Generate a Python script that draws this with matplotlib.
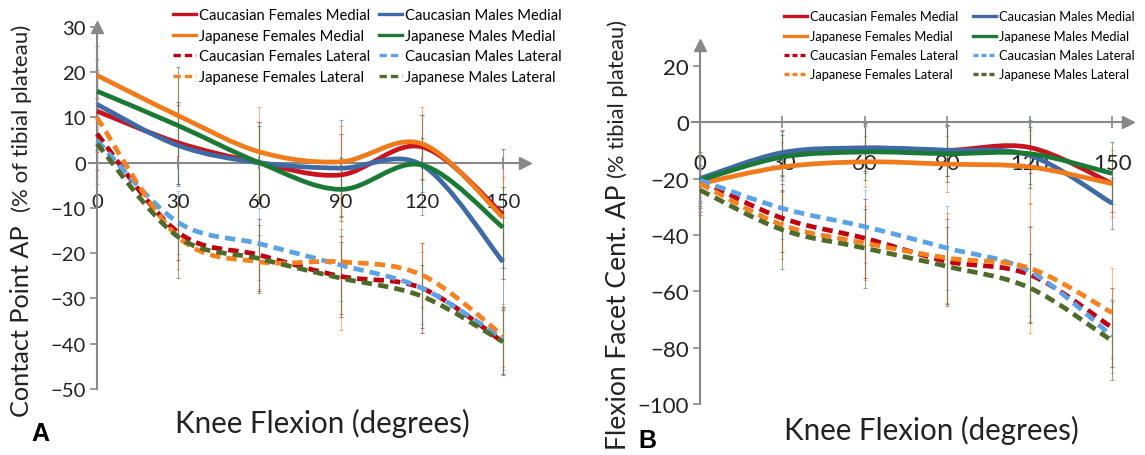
import matplotlib
matplotlib.use('Agg')
import matplotlib.pyplot as plt
from matplotlib.path import Path
from matplotlib.patches import PathPatch
from matplotlib.lines import Line2D
import numpy as np

plt.rcParams['font.family'] = ['Lato', 'DejaVu Sans']

flexion = [0, 30, 60, 90, 120, 150]

series_names = ['Caucasian Females Medial', 'Caucasian Males Medial',
                'Japanese Females Medial', 'Japanese Males Medial',
                'Caucasian Females Lateral', 'Caucasian Males Lateral',
                'Japanese Females Lateral', 'Japanese Males Lateral']
series_colors = ['#C8141E', '#3E6AA5', '#F07B1B', '#1A7A35',
                 '#C00010', '#5BA3E6', '#F58220', '#4E6B2A']
series_styles = ['-', '-', '-', '-', '--', '--', '--', '--']

# panel A: contact point AP (% of tibial plateau)
a_cf_med = [11.4, 4.4, 0.0, -2.7, 3.5, -11.4]
a_cm_med = [12.9, 3.8, 0.0, -1.2, -0.5, -21.9]
a_jf_med = [19.3, 10.4, 2.4, 0.2, 4.2, -12.1]
a_jm_med = [15.8, 8.2, 0.0, -5.9, -0.5, -14.3]
a_cf_lat = [6.4, -15.4, -20.4, -25.1, -27.7, -39.6]
a_cm_lat = [4.9, -13.2, -17.9, -22.6, -27.7, -38.9]
a_jf_lat = [10.0, -16.4, -21.9, -21.9, -24.8, -38.2]
a_jm_lat = [4.2, -16.4, -21.2, -25.5, -29.5, -39.6]

a_cf_med_sd = [9, 9, 9, 9, 7, 14.4]
a_cm_med_sd = [10, 9, 9, 10.7, 11, 10]
a_jf_med_sd = [10.5, 9, 10, 8, 8, 9]
a_jm_med_sd = [10, 13, 8, 7, 6, 9]
a_cf_lat_sd = [8, 6, 8, 9, 10, 7]
a_cm_lat_sd = [8, 7, 8, 8, 8, 7]
a_jf_lat_sd = [10, 7, 6, 15, 7, 7]
a_jm_lat_sd = [9, 9, 7.5, 8, 7, 7.4]

# panel B: flexion facet centre AP (% tibial plateau)
b_cf_med = [-20.6, -11.2, -9.2, -10.0, -9.0, -21.8]
b_cm_med = [-20.0, -10.8, -9.2, -10.0, -11.8, -28.8]
b_jf_med = [-21.8, -15.9, -14.1, -14.9, -15.9, -21.8]
b_jm_med = [-20.6, -12.4, -10.6, -11.2, -11.2, -18.2]
b_cf_lat = [-20.6, -34.1, -41.2, -49.4, -54.1, -72.9]
b_cm_lat = [-20.6, -30.6, -37.1, -44.7, -52.9, -75.9]
b_jf_lat = [-21.8, -36.5, -42.9, -48.2, -51.8, -67.6]
b_jm_lat = [-24.1, -38.2, -44.7, -51.2, -58.8, -77.6]

b_cf_med_sd = [9, 8, 8, 9, 9, 10]
b_cm_med_sd = [8, 8, 9, 9, 10, 9]
b_jf_med_sd = [10, 9, 9, 10, 13, 12]
b_jm_med_sd = [8, 8, 10, 10, 12, 11]
b_cf_lat_sd = [10, 12, 14, 15, 17, 14]
b_cm_lat_sd = [9, 11, 13, 15, 16, 13]
b_jf_lat_sd = [10, 12, 13, 16, 23, 16]
b_jm_lat_sd = [9, 14, 14, 14, 12, 14]

a_values = [a_cf_med, a_cm_med, a_jf_med, a_jm_med, a_cf_lat, a_cm_lat, a_jf_lat, a_jm_lat]
a_sds = [a_cf_med_sd, a_cm_med_sd, a_jf_med_sd, a_jm_med_sd,
         a_cf_lat_sd, a_cm_lat_sd, a_jf_lat_sd, a_jm_lat_sd]
b_values = [b_cf_med, b_cm_med, b_jf_med, b_jm_med, b_cf_lat, b_cm_lat, b_jf_lat, b_jm_lat]
b_sds = [b_cf_med_sd, b_cm_med_sd, b_jf_med_sd, b_jm_med_sd,
         b_cf_lat_sd, b_cm_lat_sd, b_jf_lat_sd, b_jm_lat_sd]

GRAY = '#888888'
TXT = '#222222'
W, H = 1145, 456

fig = plt.figure(figsize=(W / 100, H / 100), dpi=100)
renderer = fig.canvas.get_renderer()


def fit_size(text, target_px, **kw):
    # font size that makes the text about target_px wide
    t = fig.text(0, 0, text, fontsize=10, **kw)
    w = t.get_window_extent(renderer).width
    t.remove()
    return 10 * target_px / w


def smooth_path(x, y):
    # excel style smoothed line: catmull-rom as cubic bezier
    pts = np.column_stack([x, y]).astype(float)
    n = len(pts)
    verts = [pts[0]]
    codes = [Path.MOVETO]
    for i in range(n - 1):
        p0 = pts[max(i - 1, 0)]
        p1 = pts[i]
        p2 = pts[i + 1]
        p3 = pts[min(i + 2, n - 1)]
        verts += [p1 + (p2 - p0) / 6, p2 - (p3 - p1) / 6, p2]
        codes += [Path.CURVE4] * 3
    return Path(verts, codes)


def draw_panel(ax, values, sds, ylim, yticks, xlim, tick_size, tick_pad):
    for vals, sd, c in zip(values, sds, series_colors):
        ax.errorbar(flexion, vals, yerr=sd, fmt='none', ecolor=c, elinewidth=0.8,
                    capsize=1.5, capthick=0.8, alpha=0.55, zorder=1, clip_on=False)
    for vals, c, ls in zip(values, series_colors, series_styles):
        patch = PathPatch(smooth_path(flexion, vals), fill=False, edgecolor=c,
                          lw=3.4, zorder=3, capstyle='butt')
        if ls == '--':
            patch.set_linestyle((0, (2.2, 1.3)))
        ax.add_patch(patch)

    ax.set_xlim(*xlim)
    ax.set_ylim(*ylim)
    ax.set_yticks(yticks)
    ax.set_xticks(flexion)
    for s in ['top', 'right']:
        ax.spines[s].set_visible(False)
    ax.spines['left'].set_position(('data', 0))
    ax.spines['bottom'].set_position(('data', 0))
    for s in ['left', 'bottom']:
        ax.spines[s].set_color(GRAY)
        ax.spines[s].set_linewidth(1.5)
        ax.spines[s].set_zorder(2)
    ax.tick_params(axis='y', direction='out', length=5, width=1.2, color=GRAY,
                   labelsize=tick_size, labelcolor=TXT, pad=3)
    ax.tick_params(axis='x', direction='inout', length=9, width=1.2, color=GRAY,
                   labelsize=tick_size, labelcolor=TXT, pad=tick_pad)
    ax.plot(1, 0, marker='>', ms=8, color=GRAY, transform=ax.get_yaxis_transform(),
            clip_on=False, zorder=2)
    ax.plot(0, 1, marker='^', ms=8, color=GRAY, transform=ax.get_xaxis_transform(),
            clip_on=False, zorder=2)
    ax.patch.set_visible(False)


size_a = fit_size('-50', 31)
size_b = fit_size('-100', 47)

ax_a = fig.add_axes([0.0776, 0.1447, 0.3806, 0.7941])
draw_panel(ax_a, a_values, a_sds, (-50, 30), np.arange(-50, 31, 10), (-3, 158), size_a, 17)

ax_b = fig.add_axes([0.6042, 0.1118, 0.3810, 0.7882])
draw_panel(ax_b, b_values, b_sds, (-100, 27.5), np.arange(-100, 21, 20), (-3, 155.8), size_b, 18)


def draw_legend(x_cols, y_rows, text_px, handle_px, dash):
    # one entry per legend so every row and column sits where it should
    fs = fit_size(series_names[0], text_px)
    fs_px = fs * 100 / 72
    for i, (name, c, ls) in enumerate(zip(series_names, series_colors, series_styles)):
        h = Line2D([], [], color=c, lw=2.4, ls=ls, dashes=dash if ls == '--' else (None, None))
        col, row = i % 2, i // 2
        fig.legend([h], [name], loc='center left',
                   bbox_to_anchor=(x_cols[col] / W, 1 - y_rows[row] / H),
                   frameon=False, fontsize=fs, handlelength=handle_px / fs_px,
                   handletextpad=3 / fs_px, borderpad=0, borderaxespad=0)


draw_legend((173, 379), (16, 37, 57, 78), 170, 23, (2.2, 1.2))
draw_legend((784, 973), (17, 37, 56, 75), 148, 23, (1.5, 0.9))

# axis titles
for txt, x, y, px in [('Contact Point AP', 22, 321, 192),
                      ('(% of tibial plateau)', 22, 118, 187),
                      ('Flexion Facet Cent. AP', 618, 317, 265),
                      ('(% tibial plateau)', 618, 99, 158)]:
    fig.text(x / W, 1 - y / H, txt, rotation=90, ha='center', va='center',
             fontsize=fit_size(txt, px), color=TXT)

xl_size = fit_size('Knee Flexion (degrees)', 295)
fig.text(322 / W, 1 - 423 / H, 'Knee Flexion (degrees)', ha='center', va='center',
         fontsize=xl_size, color=TXT)
fig.text(931 / W, 1 - 430 / H, 'Knee Flexion (degrees)', ha='center', va='center',
         fontsize=xl_size, color=TXT)
fig.text(40 / W, 1 - 434 / H, 'A', ha='center', va='center', fontsize=18,
         fontweight='bold', family=['Liberation Sans', 'DejaVu Sans'])
fig.text(647 / W, 1 - 441 / H, 'B', ha='center', va='center', fontsize=18,
         fontweight='bold', family=['Liberation Sans', 'DejaVu Sans'])

fig.savefig('out.png', dpi=100)
